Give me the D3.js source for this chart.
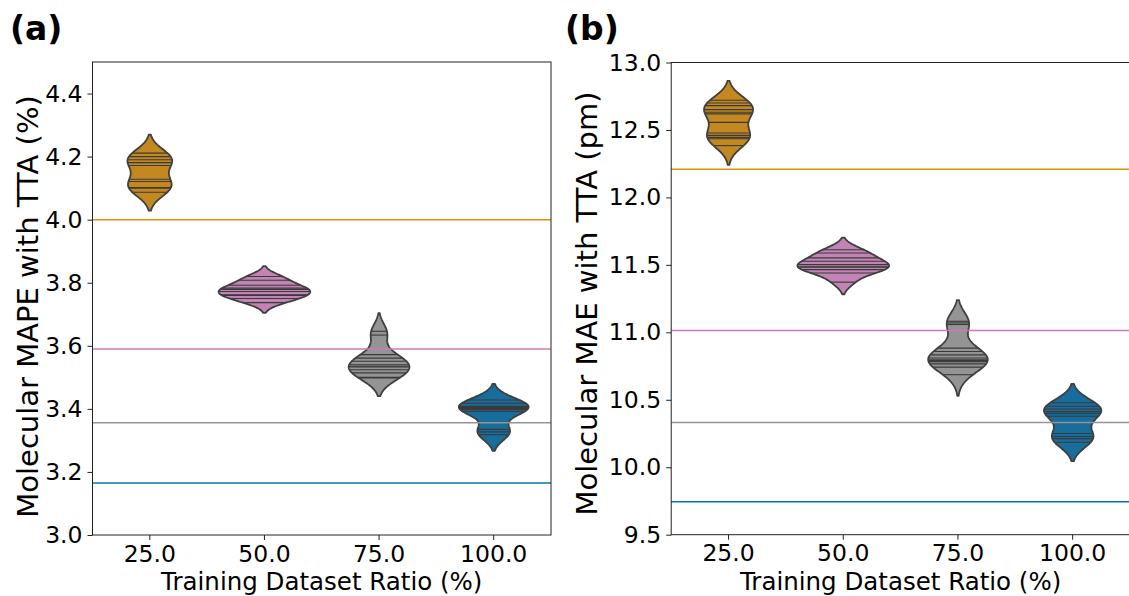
<!DOCTYPE html>
<html>
<head>
<meta charset="utf-8">
<script src="https://cdn.jsdelivr.net/npm/d3@7"></script>
<style>
  html, body { margin: 0; padding: 0; background: #fff; }
  svg { display: block; font-family: "DejaVu Sans", sans-serif; }
</style>
</head>
<body>
<div id="chart"></div>
<script>
// training ratios on the x axis
const ratios = ['25.0', '50.0', '75.0', '100.0'];

// repeated runs, molecular MAPE with TTA (%)
const mape25 = [4.211, 4.200, 4.190, 4.181, 4.172, 4.128, 4.121, 4.102, 4.100, 4.087];
const mape50 = [3.820, 3.808, 3.792, 3.783, 3.779, 3.772, 3.762, 3.760, 3.750, 3.737];
const mape75 = [3.646, 3.634, 3.572, 3.561, 3.551, 3.540, 3.535, 3.533, 3.524, 3.514, 3.500, 3.498];
const mape100 = [3.428, 3.418, 3.408, 3.404, 3.401, 3.398, 3.392, 3.335, 3.327, 3.318];

// repeated runs, molecular MAE with TTA (pm)
const mae25 = [12.720, 12.700, 12.680, 12.651, 12.631, 12.619, 12.556, 12.478, 12.460, 12.445, 12.435, 12.384];
const mae50 = [11.612, 11.588, 11.552, 11.527, 11.502, 11.486, 11.482, 11.465, 11.440, 11.372];
const mae75 = [11.082, 11.070, 11.058, 10.883, 10.858, 10.833, 10.810, 10.797, 10.790, 10.783, 10.766, 10.742, 10.686];
const mae100 = [10.478, 10.452, 10.432, 10.412, 10.398, 10.378, 10.250, 10.228, 10.212, 10.185];

// reference lines (without TTA)
const mapeBaseline = [4.000, 3.590, 3.356, 3.165];
const maeBaseline = [12.208, 11.013, 10.331, 9.745];

const mapeTicks = [3.0, 3.2, 3.4, 3.6, 3.8, 4.0, 4.2, 4.4];
const maeTicks = [9.5, 10.0, 10.5, 11.0, 11.5, 12.0, 12.5, 13.0];

const lineColors = ['#DE8F05', '#CC78BC', '#949494', '#0173B2'];

const W = 1129, H = 596;

const svg = d3.select('#chart').append('svg')
  .attr('width', W)
  .attr('height', H);

// seaborn style desaturation (saturation = 0.75)
const desat = (c) => {
  const h = d3.hsl(c);
  h.s *= 0.75;
  return h.formatHex();
};

// gaussian kde, scott bandwidth like scipy
const makeKde = (obs) => {
  const n = obs.length;
  const sd = d3.deviation(obs);
  const bw = sd * Math.pow(n, -1 / 5);
  const f = (v) => d3.sum(obs, (o) => Math.exp(-0.5 * ((v - o) / bw) ** 2)) / (n * bw * Math.sqrt(2 * Math.PI));
  return { f, bw };
};

const drawPanel = (opts) => {
  const { left, right, top, bottom, domain, ticks, runs, baseline, ylabel, labelX, labelY, tag, tagX } = opts;

  const x = d3.scaleBand().domain(ratios).range([left, right]);
  const y = d3.scaleLinear().domain(domain).range([bottom, top]);

  const g = svg.append('g');

  // densities for each violin
  const violins = runs.map((obs, i) => {
    const k = makeKde(obs);
    const lo = d3.min(obs) - 2 * k.bw;
    const hi = d3.max(obs) + 2 * k.bw;
    const grid = d3.range(100).map((j) => lo + (hi - lo) * j / 99);
    const dens = grid.map((v) => ({ v, d: k.f(v) }));
    return { obs, k, dens, cat: ratios[i], color: lineColors[i] };
  });
  const maxD = d3.max(violins, (vi) => d3.max(vi.dens, (p) => p.d));
  const half = x.bandwidth() * 0.4;
  const w = d3.scaleLinear().domain([0, maxD]).range([0, half]);

  violins.forEach((vi) => {
    const cx = x(vi.cat) + x.bandwidth() / 2;
    const area = d3.area()
      .y((p) => y(p.v))
      .x0((p) => cx - w(p.d))
      .x1((p) => cx + w(p.d));
    g.append('path')
      .attr('d', area(vi.dens))
      .attr('fill', desat(vi.color))
      .attr('stroke', 'none');

    g.selectAll(null)
      .data(vi.obs)
      .enter()
      .append('line')
      .attr('x1', (o) => cx - w(vi.k.f(o)))
      .attr('x2', (o) => cx + w(vi.k.f(o)))
      .attr('y1', (o) => y(o))
      .attr('y2', (o) => y(o))
      .attr('stroke', '#3a3a3a')
      .attr('stroke-width', 1.1);

    g.append('path')
      .attr('d', area(vi.dens) + 'Z')
      .attr('fill', 'none')
      .attr('stroke', '#3f3f3f')
      .attr('stroke-width', 1.8)
      .attr('stroke-linejoin', 'round');
  });

  // baselines
  g.selectAll('.base')
    .data(baseline)
    .enter()
    .append('line')
    .attr('class', 'base')
    .attr('x1', left)
    .attr('x2', right)
    .attr('y1', (d) => y(d))
    .attr('y2', (d) => y(d))
    .attr('stroke', (d, i) => lineColors[i])
    .attr('stroke-width', 1.5);

  // axes
  const yAxis = g.append('g')
    .attr('transform', 'translate(' + left + ',0)')
    .call(d3.axisLeft(y).tickValues(ticks).tickFormat(d3.format('.1f')).tickSize(5).tickPadding(5));
  const xAxis = g.append('g')
    .attr('transform', 'translate(0,' + bottom + ')')
    .call(d3.axisBottom(x).tickSize(5).tickPadding(5));
  [yAxis, xAxis].forEach((a) => {
    a.select('.domain').remove();
    a.selectAll('line').attr('stroke', '#222').attr('stroke-width', 1);
    a.selectAll('text').attr('fill', '#000').style('font-size', '23.5px').style('font-family', '"DejaVu Sans"');
  });

  g.append('rect')
    .attr('x', left)
    .attr('y', top)
    .attr('width', right - left)
    .attr('height', bottom - top)
    .attr('fill', 'none')
    .attr('stroke', '#222')
    .attr('stroke-width', 1);

  g.append('text')
    .attr('x', (left + right) / 2)
    .attr('y', 590)
    .attr('text-anchor', 'middle')
    .style('font-size', '24.5px')
    .text('Training Dataset Ratio (%)');

  g.append('text')
    .attr('transform', 'translate(' + labelX + ',' + labelY + ') rotate(-90)')
    .attr('text-anchor', 'middle')
    .style('font-size', '29px')
    .text(ylabel);

  g.append('text')
    .attr('x', tagX)
    .attr('y', 40)
    .style('font-size', '33px')
    .style('font-weight', 'bold')
    .text(tag);
};

drawPanel({
  left: 92.5, right: 551, top: 62, bottom: 535,
  domain: [3.0, 4.5], ticks: mapeTicks,
  runs: [mape25, mape50, mape75, mape100],
  baseline: mapeBaseline,
  ylabel: 'Molecular MAPE with TTA (%)', labelX: 38, labelY: 306.5,
  tag: '(a)', tagX: 10
});

drawPanel({
  left: 671.2, right: 1130, top: 62.5, bottom: 534.7,
  domain: [9.5, 13.0], ticks: maeTicks,
  runs: [mae25, mae50, mae75, mae100],
  baseline: maeBaseline,
  ylabel: 'Molecular MAE with TTA (pm)', labelX: 596.5, labelY: 303.5,
  tag: '(b)', tagX: 565
});
</script>
</body>
</html>
